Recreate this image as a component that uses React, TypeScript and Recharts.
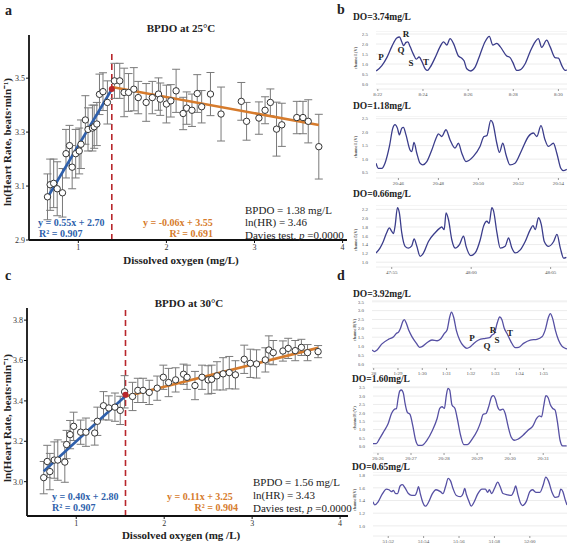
import React from 'react';
import {
  ComposedChart, Scatter, Line, LineChart, XAxis, YAxis, ErrorBar,
  ReferenceLine, ReferenceDot, CartesianGrid,
} from 'recharts';

const SERIF = "'Liberation Serif', 'Times New Roman', serif";
const BLUE = '#2e5fab';
const ORANGE = '#d67b2c';
const RED = '#b8262c';

// ---- panel a : 25 degC ----
const doA = [0.65, 0.68, 0.72, 0.76, 0.82, 0.86, 0.9, 0.93, 0.97, 1.01, 1.03, 1.08, 1.11, 1.16, 1.18, 1.21, 1.24, 1.28, 1.33,
  1.41, 1.47, 1.52, 1.57, 1.63, 1.68, 1.77, 1.84, 1.91, 1.93, 2.0, 2.05, 2.11, 2.19, 2.23, 2.29, 2.35, 2.4, 2.5, 2.62,
  2.85, 2.91, 3.05, 3.12, 3.18, 3.25, 3.31, 3.48, 3.55, 3.61, 3.73];
const lnHrA = [3.06, 3.105, 3.11, 3.09, 3.075, 3.22, 3.25, 3.17, 3.22, 3.23, 3.255, 3.345, 3.31, 3.315, 3.32, 3.33, 3.44, 3.45, 3.41,
  3.49, 3.49, 3.447, 3.447, 3.459, 3.428, 3.41, 3.428, 3.441, 3.422, 3.404, 3.416, 3.453, 3.369, 3.389, 3.381, 3.443, 3.394, 3.441, 3.367,
  3.414, 3.34, 3.352, 3.381, 3.41, 3.311, 3.327, 3.354, 3.354, 3.34, 3.246];
const seA = [0.085, 0.095, 0.09, 0.1, 0.09, 0.09, 0.075, 0.08, 0.09, 0.085, 0.09, 0.09, 0.08, 0.085, 0.08, 0.08, 0.075, 0.07, 0.08,
  0.065, 0.065, 0.09, 0.07, 0.08, 0.06, 0.07, 0.06, 0.06, 0.06, 0.07, 0.06, 0.08, 0.06, 0.06, 0.06, 0.07, 0.06, 0.08, 0.1,
  0.07, 0.07, 0.06, 0.05, 0.05, 0.1, 0.08, 0.06, 0.06, 0.08, 0.12];
const bpA = 1.38;
const hrA = 3.46;
const fitA = { left: [0.55, 2.70], right: [-0.06, 3.55] };

// ---- panel c : 30 degC ----
const doC = [0.63, 0.67, 0.7, 0.75, 0.79, 0.87, 0.89, 0.93, 0.97, 1.05, 1.11, 1.21, 1.24, 1.31, 1.37, 1.44, 1.5, 1.55,
  1.64, 1.7, 1.76, 1.83, 1.92, 1.99, 2.05, 2.13, 2.22, 2.26, 2.35, 2.43, 2.5, 2.54, 2.6, 2.67, 2.74, 2.81, 2.91, 2.98,
  3.05, 3.15, 3.19, 3.24, 3.35, 3.41, 3.49, 3.56, 3.63, 3.75];
const lnHrC = [3.02, 3.1, 3.05, 3.107, 3.107, 3.097, 3.184, 3.233, 3.274, 3.245, 3.245, 3.241, 3.299, 3.376, 3.365, 3.369, 3.353, 3.445,
  3.422, 3.452, 3.452, 3.442, 3.463, 3.517, 3.491, 3.504, 3.532, 3.517, 3.476, 3.517, 3.504, 3.507, 3.524, 3.534, 3.54, 3.529, 3.606, 3.586,
  3.583, 3.603, 3.652, 3.639, 3.647, 3.66, 3.649, 3.665, 3.639, 3.644];
const seC = [0.08, 0.08, 0.09, 0.09, 0.1, 0.1, 0.07, 0.07, 0.07, 0.06, 0.07, 0.06, 0.07, 0.07, 0.06, 0.07, 0.07, 0.08,
  0.07, 0.06, 0.06, 0.06, 0.06, 0.06, 0.07, 0.06, 0.05, 0.06, 0.07, 0.06, 0.07, 0.07, 0.07, 0.08, 0.08, 0.07, 0.07, 0.07,
  0.07, 0.06, 0.07, 0.06, 0.05, 0.05, 0.05, 0.04, 0.04, 0.03];
const bpC = 1.56;
const hrC = 3.43;
const fitC = { left: [0.40, 2.80], right: [0.11, 3.25] };

// ---- ECG traces (time in s, voltage in V) ----
const b1Time = [501.93, 502.18, 502.4, 502.62, 502.84, 502.96, 503.06, 503.14, 503.25, 503.33, 503.43, 503.58, 503.7, 503.83, 503.95,
  504.1, 504.2, 504.32, 504.54, 504.76, 504.91, 505.06, 505.2, 505.35, 505.57, 505.72, 505.82, 505.94, 506.12, 506.31, 506.53,
  506.75, 506.94, 507.09, 507.27, 507.42, 507.71, 507.86, 507.98, 508.15, 508.3, 508.52, 508.75, 508.97, 509.11, 509.26, 509.48,
  509.63, 509.85, 510.0, 510.15, 510.3, 510.37];
const b1Volt = [0.65, 0.92, 1.32, 1.87, 2.3, 2.35, 2.11, 1.92, 2.08, 2.11, 1.87, 1.48, 1.24, 1.35, 1.13,
  0.76, 0.68, 0.84, 1.32, 1.87, 2.11, 1.95, 2.27, 2.03, 1.4, 1.29, 1.16, 0.76, 0.65, 0.84, 1.48,
  2.11, 2.38, 1.95, 2.03, 1.87, 1.4, 1.32, 1.08, 0.68, 0.71, 1.0, 1.63, 2.11, 2.27, 1.83, 2.19,
  1.87, 1.32, 1.29, 0.92, 0.68, 0.71];

const b2Time = [1244.88, 1245.0, 1245.17, 1245.33, 1245.55, 1245.72, 1245.83, 1245.95, 1246.05, 1246.17, 1246.25, 1246.38, 1246.58,
  1246.67, 1246.78, 1246.92, 1247.08, 1247.22, 1247.42, 1247.67, 1247.92, 1248.0, 1248.17, 1248.38, 1248.58, 1248.83, 1249.0,
  1249.17, 1249.38, 1249.75, 1250.08, 1250.28, 1250.42, 1250.62, 1250.72, 1250.92, 1251.05, 1251.22, 1251.38, 1251.58, 1251.83,
  1252.17, 1252.5, 1252.75, 1252.92, 1253.13, 1253.33, 1253.5, 1253.75, 1253.92, 1254.12, 1254.25, 1254.42];
const b2Volt = [0.85, 0.66, 0.66, 0.85, 1.47, 2.15, 2.28, 2.15, 1.9, 2.15, 2.18, 1.9, 1.34,
  1.28, 1.62, 1.22, 0.85, 0.79, 0.91, 1.34, 1.84, 1.94, 1.84, 2.09, 1.72, 1.41, 1.59,
  1.22, 0.91, 1.1, 1.47, 1.84, 1.87, 2.44, 2.34, 1.59, 1.25, 1.59, 1.16, 0.79, 0.85,
  1.34, 1.84, 1.97, 1.84, 2.24, 1.72, 1.47, 1.59, 1.22, 0.66, 0.57, 0.62];

const b3Time = [2874.01, 2874.26, 2874.47, 2874.68, 2874.85, 2875.0, 2875.11, 2875.21, 2875.36, 2875.48, 2875.63, 2875.84, 2876.05,
  2876.26, 2876.41, 2876.58, 2876.79, 2877.0, 2877.31, 2877.73, 2878.05, 2878.15, 2878.3, 2878.42, 2878.57, 2878.78, 2878.99,
  2879.26, 2879.52, 2879.68, 2879.98, 2880.25, 2880.57, 2880.78, 2880.99, 2881.13, 2881.3, 2881.41, 2881.62, 2881.83, 2882.14,
  2882.35, 2882.56, 2882.77, 2883.09, 2883.4, 2883.72, 2883.89, 2884.03, 2884.24, 2884.41, 2884.6, 2884.87, 2885.19, 2885.4,
  2885.61, 2885.82, 2885.99];
const b3Volt = [1.21, 1.32, 1.47, 1.67, 1.78, 1.7, 1.65, 1.82, 2.24, 2.12, 1.67, 1.36, 1.32,
  1.37, 1.53, 1.36, 1.13, 1.21, 1.47, 1.67, 1.78, 1.8, 1.74, 2.12, 1.97, 1.51, 1.32,
  1.4, 1.59, 1.36, 1.15, 1.21, 1.51, 1.82, 1.93, 1.88, 2.24, 2.16, 1.67, 1.32, 1.36,
  1.55, 1.32, 1.21, 1.28, 1.47, 1.74, 1.83, 1.74, 2.01, 1.86, 1.47, 1.36, 1.47, 1.63,
  1.32, 1.09, 1.11];

const d1Time = [87.93, 88.03, 88.14, 88.34, 88.62, 88.82, 88.93, 89.03, 89.1, 89.21, 89.26, 89.34, 89.44, 89.58, 89.76, 89.89,
  89.99, 90.19, 90.4, 90.61, 90.74, 90.91, 91.02, 91.13, 91.2, 91.29, 91.4, 91.54, 91.7, 91.84, 91.95, 92.12, 92.32, 92.6,
  92.77, 92.87, 92.97, 93.08, 93.19, 93.28, 93.38, 93.49, 93.65, 93.83, 93.97, 94.17, 94.45, 94.72, 94.93, 95.06, 95.2,
  95.27, 95.37, 95.48, 95.61, 95.75, 95.89, 95.96];
const d1Volt = [0.78, 0.69, 0.78, 1.12, 1.39, 1.52, 1.71, 1.8, 1.99, 2.42, 2.49, 2.3, 1.9, 1.52, 1.15, 0.93,
  0.97, 1.19, 1.34, 1.3, 1.38, 1.71, 1.9, 2.64, 2.92, 2.64, 1.9, 1.34, 1.0, 0.87, 0.93, 1.15, 1.34, 1.43,
  1.47, 1.62, 1.71, 2.27, 2.64, 2.49, 1.99, 1.71, 1.25, 0.91, 0.93, 1.15, 1.34, 1.38, 1.52, 1.9, 2.64,
  2.83, 2.55, 1.9, 1.34, 1.0, 0.87, 0.84];
const d1Ticks = [88, 89, 90, 91, 92, 93, 94, 95];
const d1TickLabels = ['28', '1:29', '1:30', '1:31', '1:32', '1:33', '1:34', '1:35'];

const d2Time = [1225.85, 1225.95, 1226.05, 1226.18, 1226.31, 1226.41, 1226.49, 1226.56, 1226.61, 1226.66, 1226.71, 1226.77,
  1226.82, 1226.89, 1226.97, 1227.05, 1227.14, 1227.22, 1227.33, 1227.48, 1227.65, 1227.79, 1227.87, 1227.94, 1228.01,
  1228.07, 1228.12, 1228.17, 1228.24, 1228.33, 1228.4, 1228.5, 1228.6, 1228.7, 1228.86, 1229.01, 1229.11, 1229.18, 1229.27,
  1229.35, 1229.44, 1229.49, 1229.55, 1229.62, 1229.69, 1229.78, 1229.85, 1229.93, 1230.03, 1230.13, 1230.23, 1230.39,
  1230.54, 1230.69, 1230.8, 1230.88, 1230.95, 1231.02, 1231.08, 1231.15, 1231.22, 1231.29, 1231.36, 1231.43, 1231.51,
  1231.59, 1231.71];
const d2Volt = [0.16, 0.16, 0.46, 0.9, 1.36, 1.96, 2.2, 2.26, 2.86, 3.3, 3.36, 3.16,
  2.56, 2.02, 1.9, 1.26, 0.36, 0.06, 0.06, 0.36, 0.96, 1.66, 2.26, 2.36, 2.26,
  3.06, 3.46, 3.36, 2.46, 2.26, 1.66, 0.66, 0.1, 0.1, 0.46, 0.96, 1.46, 1.9, 1.96,
  2.36, 2.96, 3.02, 2.86, 2.36, 2.16, 2.22, 1.96, 1.26, 0.56, 0.36, 0.42, 0.66,
  0.96, 1.22, 1.66, 1.82, 1.76, 2.46, 3.02, 2.9, 2.46, 2.26, 2.16, 1.46, 0.36,
  0.02, 0.02];

const d3Time = [3111.14, 3111.24, 3111.43, 3111.66, 3111.9, 3112.04, 3112.19, 3112.29, 3112.42, 3112.53, 3112.67, 3112.8,
  3112.95, 3113.14, 3113.33, 3113.52, 3113.62, 3113.71, 3113.81, 3113.94, 3114.1, 3114.29, 3114.48, 3114.7, 3114.95,
  3115.09, 3115.24, 3115.39, 3115.52, 3115.66, 3115.85, 3116.1, 3116.23, 3116.32, 3116.42, 3116.57, 3116.69, 3116.86,
  3117.05, 3117.3, 3117.49, 3117.62, 3117.71, 3117.85, 3118.0, 3118.19, 3118.32, 3118.48, 3118.76, 3118.95, 3119.1,
  3119.2, 3119.33, 3119.47, 3119.58, 3119.81, 3120.0, 3120.15, 3120.34, 3120.57, 3120.76, 3120.9, 3121.05, 3121.24,
  3121.43, 3121.62, 3121.75, 3121.87, 3122.0, 3122.1];
const d3Volt = [1.38, 1.33, 1.38, 1.5, 1.58, 1.57, 1.54, 1.56, 1.51, 1.51, 1.63, 1.65,
  1.6, 1.51, 1.48, 1.48, 1.54, 1.62, 1.51, 1.38, 1.31, 1.38, 1.5, 1.57, 1.54,
  1.51, 1.62, 1.75, 1.71, 1.59, 1.48, 1.46, 1.51, 1.59, 1.49, 1.38, 1.31, 1.38,
  1.5, 1.58, 1.58, 1.53, 1.57, 1.51, 1.59, 1.69, 1.62, 1.51, 1.49, 1.48, 1.55,
  1.63, 1.49, 1.36, 1.32, 1.39, 1.54, 1.57, 1.53, 1.53, 1.65, 1.77, 1.71, 1.54,
  1.45, 1.46, 1.58, 1.54, 1.41, 1.33];

const mmss = (v: number) => `${Math.floor(v / 60)}:${String(Math.round(v % 60)).padStart(2, '0')}`;

function Txt({ x, y, anchor = 'start', size = 10, bold = false, italic = false, color = '#222', rotate = false, children }: any) {
  const tx = anchor === 'middle' ? '-50%' : anchor === 'end' ? '-100%' : '0';
  return (
    <div style={{
      position: 'absolute', left: x, top: y, whiteSpace: 'nowrap', lineHeight: 1,
      transform: `translate(${tx}, -50%)${rotate ? ' rotate(-90deg)' : ''}`,
      fontFamily: SERIF, fontSize: size, fontWeight: bold ? 700 : 400, fontStyle: italic ? 'italic' : 'normal', color,
    }}>{children}</div>
  );
}

function fitLine(fit: number[], x0: number, x1: number) {
  return [x0, x1].map((x) => ({ x, y: fit[0] * x + fit[1] }));
}

function Dot(p: any) {
  return <circle cx={p.cx} cy={p.cy} r={3.2} fill="#fff" stroke="#333" strokeWidth={1} />;
}

function BreakPanel({ top, height, mTop, mRight, yW, xs, ys, es, xDomain, yDomain, yTicks, bp, hr, fit, dashTop }: any) {
  const pts = xs.map((x: number, i: number) => ({ x, y: ys[i], err: es[i] }));
  const leftLine = fitLine(fit.left, Math.min(...xs), bp);
  const rightLine = fitLine(fit.right, bp, Math.max(...xs));
  const tickStyle = { fontSize: 8, fill: '#333', fontFamily: SERIF };
  return (
    <div style={{ position: 'absolute', left: 0, top }}>
      <ComposedChart width={360} height={height} margin={{ top: mTop, right: mRight, bottom: 0, left: 0 }}>
        <XAxis type="number" dataKey="x" domain={xDomain} ticks={[1, 2, 3, 4]} allowDataOverflow
          height={30} tickSize={3} tickMargin={1} interval={0}
          axisLine={{ stroke: '#111', strokeWidth: 1.8 }} tickLine={{ stroke: '#111' }} tick={tickStyle} />
        <YAxis type="number" dataKey="y" domain={yDomain} ticks={yTicks} allowDataOverflow width={yW}
          tickSize={3} tickMargin={1} interval={0} tickFormatter={(v: number) => v.toFixed(1)}
          axisLine={{ stroke: '#111', strokeWidth: 1.8 }} tickLine={{ stroke: '#111' }} tick={tickStyle} />
        <ReferenceLine segment={[{ x: bp, y: yDomain[0] }, { x: bp, y: dashTop }]} stroke={RED}
          strokeWidth={1.6} strokeDasharray="6 4" />
        <Scatter data={pts} dataKey="y" shape={Dot} isAnimationActive={false}>
          <ErrorBar dataKey="err" direction="y" width={4} stroke="#7a7a7a" strokeWidth={1} />
        </Scatter>
        <Line data={leftLine} dataKey="y" stroke={BLUE} strokeWidth={2.6} dot={false} isAnimationActive={false} />
        <Line data={rightLine} dataKey="y" stroke={ORANGE} strokeWidth={2.6} dot={false} isAnimationActive={false} />
        <ReferenceDot x={bp} y={hr} r={3} fill={RED} stroke="none" />
      </ComposedChart>
    </div>
  );
}

function Wave({ time, volt, left, top, right = 567, bottom, xDomain, yDomain, yTicks, xTicks, xFmt, color }: any) {
  const data = time.map((t: number, i: number) => ({ t, v: volt[i] }));
  const yW = 14;
  const tick = { fontSize: 5, fill: '#555', fontFamily: SERIF };
  return (
    <div style={{ position: 'absolute', left: left - yW, top }}>
      <LineChart width={right - left + yW} height={bottom - top + 12} data={data} margin={{ top: 0, right: 0, bottom: 0, left: 0 }}>
        <CartesianGrid vertical={false} stroke="#ececec" />
        <XAxis type="number" dataKey="t" domain={xDomain} ticks={xTicks} tickFormatter={xFmt} allowDataOverflow interval={0}
          height={12} axisLine={false} tickSize={2} tickMargin={1} tickLine={{ stroke: '#999' }} tick={tick} />
        <YAxis type="number" domain={yDomain} ticks={yTicks} allowDataOverflow width={yW} interval={0}
          axisLine={false} tickLine={false} tickMargin={2} tick={tick} tickFormatter={(v: number) => v.toFixed(1)} />
        <Line dataKey="v" type="monotone" stroke={color} strokeWidth={1.3} dot={false} isAnimationActive={false} />
      </LineChart>
    </div>
  );
}

const WB = '#3b3d8b';
const WD = '#5650a3';

export default function App() {
  return (
    <div style={{ position: 'absolute', left: 0, top: 0, width: 567, height: 548, background: '#fff', overflow: 'hidden' }}>
      {/* panel a */}
      <BreakPanel top={0} height={270} mTop={35} mRight={13} yW={29} xs={doA} ys={lnHrA} es={seA}
        xDomain={[0.44, 4.05]} yDomain={[2.9, 3.66]} yTicks={[2.9, 3.1, 3.3, 3.5]} bp={bpA} hr={hrA} fit={fitA} dashTop={3.6} />
      <Txt x={5} y={11} size={14} bold>a</Txt>
      <Txt x={181} y={28} size={11} bold anchor="middle">BPDO at 25°C</Txt>
      <Txt x={181} y={260} size={11} bold anchor="middle">Dissolved oxygen (mg/L)</Txt>
      <Txt x={7} y={142} size={11} bold anchor="middle" rotate>ln(Heart Rate, beats·min⁻¹)</Txt>
      <Txt x={38} y={223} bold color={BLUE}>y = 0.55x + 2.70</Txt>
      <Txt x={39} y={234} bold color={BLUE}>R² = 0.907</Txt>
      <Txt x={143} y={223} bold color={ORANGE}>y = -0.06x + 3.55</Txt>
      <Txt x={213} y={234} bold color={ORANGE} anchor="end">R² = 0.691</Txt>
      <Txt x={245} y={210} size={11}>BPDO = 1.38 mg/L</Txt>
      <Txt x={245} y={222} size={11}>ln(HR) = 3.46</Txt>
      <Txt x={245} y={235} size={11}>Davies test, <i>p</i> =0.0000</Txt>

      {/* panel c */}
      <BreakPanel top={270} height={276} mTop={38} mRight={12} yW={27} xs={doC} ys={lnHrC} es={seC}
        xDomain={[0.44, 4.09]} yDomain={[2.83, 3.86]} yTicks={[3.0, 3.2, 3.4, 3.6, 3.8]} bp={bpC} hr={hrC} fit={fitC} dashTop={3.86} />
      <Txt x={5} y={276} size={14} bold>c</Txt>
      <Txt x={189} y={303} size={11} bold anchor="middle">BPDO at 30°C</Txt>
      <Txt x={181} y={535} size={11} bold anchor="middle">Dissolved oxygen (mg /L)</Txt>
      <Txt x={7} y={418} size={11} bold anchor="middle" rotate>ln(Heart Rate, beats·min⁻¹)</Txt>
      <Txt x={52} y={497} bold color={BLUE}>y = 0.40x + 2.80</Txt>
      <Txt x={52} y={508} bold color={BLUE}>R² = 0.907</Txt>
      <Txt x={167} y={497} bold color={ORANGE}>y = 0.11x + 3.25</Txt>
      <Txt x={238} y={508} bold color={ORANGE} anchor="end">R² = 0.904</Txt>
      <Txt x={253} y={482} size={11}>BPDO = 1.56 mg/L</Txt>
      <Txt x={253} y={495} size={11}>ln(HR) = 3.43</Txt>
      <Txt x={253} y={508} size={11}>Davies test, <i>p</i> =0.0000</Txt>

      {/* panel b */}
      <Txt x={337} y={10} size={14} bold>b</Txt>
      <Wave time={b1Time} volt={b1Volt} left={376} top={31} bottom={89} xDomain={[501.92, 510.38]}
        yDomain={[-0.25, 2.65]} yTicks={[0, 0.5, 1, 1.5, 2, 2.5]} xTicks={[502, 504, 506, 508, 510]} xFmt={mmss} color={WB} />
      <Txt x={353} y={18} size={9.5} bold>DO=3.74mg/L</Txt>
      <Txt x={356} y={58} size={4.5} anchor="middle" rotate>channel1(V)</Txt>
      <Txt x={381} y={57} size={9} bold anchor="middle">P</Txt>
      <Txt x={401} y={50} size={9} bold anchor="middle">Q</Txt>
      <Txt x={406} y={34} size={9} bold anchor="middle">R</Txt>
      <Txt x={411} y={63} size={9} bold anchor="middle">S</Txt>
      <Txt x={426} y={62} size={9} bold anchor="middle">T</Txt>

      <Wave time={b2Time} volt={b2Volt} left={376} top={116} bottom={178} xDomain={[1244.88, 1254.43]}
        yDomain={[0.3, 2.6]} yTicks={[0.5, 1, 1.5, 2, 2.5]} xTicks={[1246, 1248, 1250, 1252, 1254]} xFmt={mmss} color={WB} />
      <Txt x={353} y={107} size={9.5} bold>DO=1.18mg/L</Txt>
      <Txt x={356} y={147} size={4.5} anchor="middle" rotate>channel1(V)</Txt>

      <Wave time={b3Time} volt={b3Volt} left={376} top={205} bottom={267} xDomain={[2874.01, 2886.03]}
        yDomain={[0.89, 2.3]} yTicks={[1.0, 1.2, 1.4, 1.6, 1.8, 2.0, 2.2]} xTicks={[2875, 2880, 2885]} xFmt={mmss} color={WB} />
      <Txt x={353} y={195} size={9.5} bold>DO=0.66mg/L</Txt>
      <Txt x={356} y={240} size={4.5} anchor="middle" rotate>channel5(V)</Txt>

      {/* panel d */}
      <Txt x={337} y={276} size={14} bold>d</Txt>
      <Wave time={d1Time} volt={d1Volt} left={372} top={300} bottom={368} xDomain={[87.93, 95.96]}
        yDomain={[-0.24, 3.6]} yTicks={[0, 0.5, 1, 1.5, 2, 2.5, 3, 3.5]} xTicks={d1Ticks}
        xFmt={(v: number) => d1TickLabels[d1Ticks.indexOf(v)]} color={WD} />
      <Txt x={353} y={295} size={9.5} bold>DO=3.92mg/L</Txt>
      <Txt x={355} y={330} size={4.5} anchor="middle" rotate>channel8(V)</Txt>
      <Txt x={472} y={338} size={9} bold anchor="middle">P</Txt>
      <Txt x={487} y={346} size={9} bold anchor="middle">Q</Txt>
      <Txt x={493} y={330} size={9} bold anchor="middle">R</Txt>
      <Txt x={497} y={340} size={9} bold anchor="middle">S</Txt>
      <Txt x={510} y={333} size={9} bold anchor="middle">T</Txt>

      <Wave time={d2Time} volt={d2Volt} left={373} top={386} bottom={453} xDomain={[1225.85, 1231.72]}
        yDomain={[-0.4, 3.6]} yTicks={[0, 0.5, 1, 1.5, 2, 2.5, 3, 3.5]} xTicks={[1226, 1227, 1228, 1229, 1230, 1231]} xFmt={mmss} color={WD} />
      <Txt x={352} y={380} size={9.5} bold>DO=1.60mg/L</Txt>
      <Txt x={355} y={418} size={4.5} anchor="middle" rotate>channel8 (V)</Txt>

      <Wave time={d3Time} volt={d3Volt} left={373} top={472} bottom={536} xDomain={[3111.14, 3122.1]}
        yDomain={[0.84, 1.85]} yTicks={[1.0, 1.2, 1.4, 1.6, 1.8]} xTicks={[3112, 3114, 3116, 3118, 3120]} xFmt={mmss} color={WD} />
      <Txt x={352} y={468} size={9.5} bold>DO=0.65mg/L</Txt>
      <Txt x={355} y={500} size={4.5} anchor="middle" rotate>channel8(V)</Txt>
    </div>
  );
}
